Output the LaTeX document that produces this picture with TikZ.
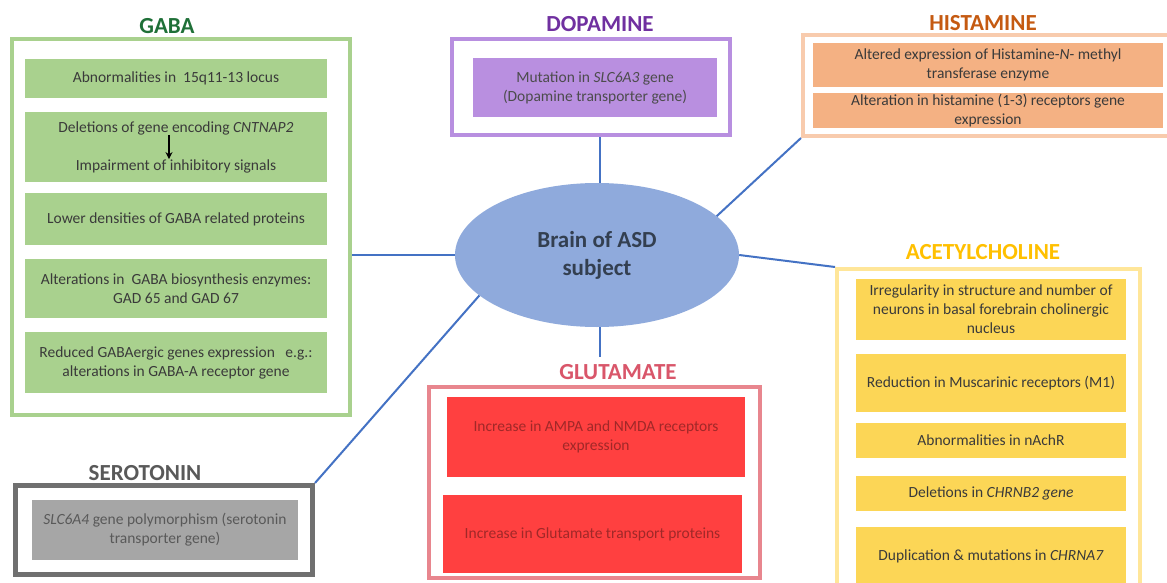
\documentclass[tikz,border=0pt]{standalone}
\usepackage{fontspec}
\setmainfont{Carlito}
\usetikzlibrary{shapes.geometric,arrows.meta}
\definecolor{gabaline}{HTML}{A9D18E}
\definecolor{gabafill}{HTML}{A9D18E}
\definecolor{gabatitle}{HTML}{1F7038}
\definecolor{dopaline}{HTML}{B88FE0}
\definecolor{dopafill}{HTML}{B98FE0}
\definecolor{dopatitle}{HTML}{7030A0}
\definecolor{histline}{HTML}{F8CBAD}
\definecolor{histfill}{HTML}{F4B183}
\definecolor{histtitle}{HTML}{C55A11}
\definecolor{achline}{HTML}{FFE699}
\definecolor{achfill}{HTML}{FCD656}
\definecolor{achtitle}{HTML}{FFC000}
\definecolor{glutline}{HTML}{E8868E}
\definecolor{glutfill}{HTML}{FF4040}
\definecolor{gluttitle}{HTML}{D9566A}
\definecolor{gluttext}{HTML}{A02828}
\definecolor{seroline}{HTML}{707070}
\definecolor{serofill}{HTML}{A6A6A6}
\definecolor{serotitle}{HTML}{595959}
\definecolor{brainfill}{HTML}{8FAADC}
\definecolor{braintext}{HTML}{333F50}
\definecolor{conn}{HTML}{4472C4}
\definecolor{bodytext}{HTML}{3A3A3A}
\tikzset{
  outerbox/.style={draw, line width=4pt, fill=none, rectangle, inner sep=0pt},
  innerbox/.style={rectangle, inner sep=0pt, align=center, text=bodytext,
    font=\fontsize{15.5}{19}\selectfont},
  titletext/.style={inner sep=0pt, font=\fontsize{23}{27}\selectfont\bfseries},
  connector/.style={draw=conn, line width=2pt},
}
\begin{document}
\begin{tikzpicture}[x=1pt,y=-1pt]
\path[use as bounding box, clip] (0,0) rectangle (1167,583);
\fill[white] (0,0) rectangle (1167,583);

% GABA
\node[titletext, text=gabatitle] (gabat) at (167,26) {GABA};
\node[outerbox, draw=gabaline, minimum width=338, minimum height=376] (gaba) at (181,227) {};
\node[innerbox, fill=gabafill, minimum width=302, minimum height=39] (g1) at (176,78.5) {Abnormalities in \ 15q11-13 locus};
\node[innerbox, fill=gabafill, minimum width=302, minimum height=70] (g2) at (176,147) {};
\node[innerbox] (g2a) at (176,128) {Deletions of gene encoding \textit{CNTNAP2}};
\node[innerbox] (g2b) at (176,166) {Impairment of inhibitory signals};
\draw[line width=1.8pt, -{Stealth[length=7pt,width=7pt]}] ([xshift=-7pt]g2a.south) -- ([xshift=-7pt]g2b.north);
\node[innerbox, fill=gabafill, minimum width=302, minimum height=52] (g3) at (176,219) {Lower densities of GABA related proteins};
\node[innerbox, fill=gabafill, minimum width=302, minimum height=59] (g4) at (176,288.5) {Alterations in \ GABA biosynthesis enzymes:\\GAD 65 and GAD 67};
\node[innerbox, fill=gabafill, minimum width=302, minimum height=61] (g5) at (176,362.5) {Reduced GABAergic genes expression \ \ e.g.:\\alterations in GABA-A receptor gene};

% DOPAMINE
\node[titletext, text=dopatitle] (dopat) at (600,24) {DOPAMINE};
\node[outerbox, draw=dopaline, minimum width=278, minimum height=96] (dopa) at (591,87) {};
\node[innerbox, fill=dopafill, text=black!70, minimum width=244, minimum height=59] (d1) at (595,87.5) {Mutation in \textit{SLC6A3} gene\\(Dopamine transporter gene)};

% HISTAMINE
\node[titletext, text=histtitle] (histt) at (983,23) {HISTAMINE};
\node[outerbox, draw=histline, minimum width=372, minimum height=101] (hist) at (989,85.5) {};
\node[innerbox, fill=histfill, minimum width=350, minimum height=44] (h1) at (988,65) {Altered expression of Histamine-\textit{N}- methyl\\transferase enzyme};
\node[innerbox, fill=histfill, minimum width=350, minimum height=35] (h2) at (988,110.5) {Alteration in histamine (1-3) receptors gene\\expression};

% ACETYLCHOLINE
\node[titletext, text=achtitle] (acht) at (983,252) {ACETYLCHOLINE};
\node[outerbox, draw=achline, minimum width=303, minimum height=329] (ach) at (988.5,433.5) {};
\node[innerbox, fill=achfill, minimum width=270, minimum height=61] (a1) at (991,309.5) {Irregularity in structure and number of\\neurons in basal forebrain cholinergic\\nucleus};
\node[innerbox, fill=achfill, minimum width=270, minimum height=58] (a2) at (991,383) {Reduction in Muscarinic receptors (M1)};
\node[innerbox, fill=achfill, minimum width=270, minimum height=35] (a3) at (991,440.5) {Abnormalities in nAchR};
\node[innerbox, fill=achfill, minimum width=270, minimum height=35] (a4) at (991,493.5) {Deletions in \textit{CHRNB2 gene}};
\node[innerbox, fill=achfill, minimum width=270, minimum height=58] (a5) at (991,556) {Duplication \& mutations in \textit{CHRNA7}};

% GLUTAMATE
\node[titletext, text=gluttitle] (glutt) at (618,372) {GLUTAMATE};
\node[outerbox, draw=glutline, minimum width=331, minimum height=191] (glut) at (594.5,482.5) {};
\node[innerbox, fill=glutfill, text=gluttext, minimum width=298, minimum height=80] (r1) at (596,437) {Increase in AMPA and NMDA receptors\\expression};
\node[innerbox, fill=glutfill, text=gluttext, minimum width=299, minimum height=78] (r2) at (592.5,534) {Increase in Glutamate transport proteins};

% SEROTONIN
\node[titletext, text=serotitle] (serot) at (145,473) {SEROTONIN};
\node[outerbox, draw=seroline, line width=5pt, minimum width=297, minimum height=89] (sero) at (164,530) {};
\node[innerbox, fill=serofill, text=black!65, minimum width=266, minimum height=60] (s1) at (165,530) {\textit{SLC6A4} gene polymorphism (serotonin\\transporter gene)};

% Brain
\node[ellipse, fill=brainfill, minimum width=284, minimum height=144, inner sep=0pt,
  align=center, text=braintext, font=\fontsize{23}{28}\selectfont\bfseries] (brain) at (597,255) {Brain of ASD\\subject};

% connectors
\coordinate (gend) at (600,357);
\draw[connector] (brain.west) -- (brain.west -| gaba.east);
\draw[connector] ([xshift=3pt]brain.north) -- ([xshift=3pt]brain.north |- dopa.south);
\draw[connector] (brain.18) -- (hist.south west);
\draw[connector] (brain.east) -- (ach.north west);
\draw[connector] (brain.199) -- (sero.north east);
\draw[connector] (brain.south -| gend) -- (gend);
\end{tikzpicture}
\end{document}
